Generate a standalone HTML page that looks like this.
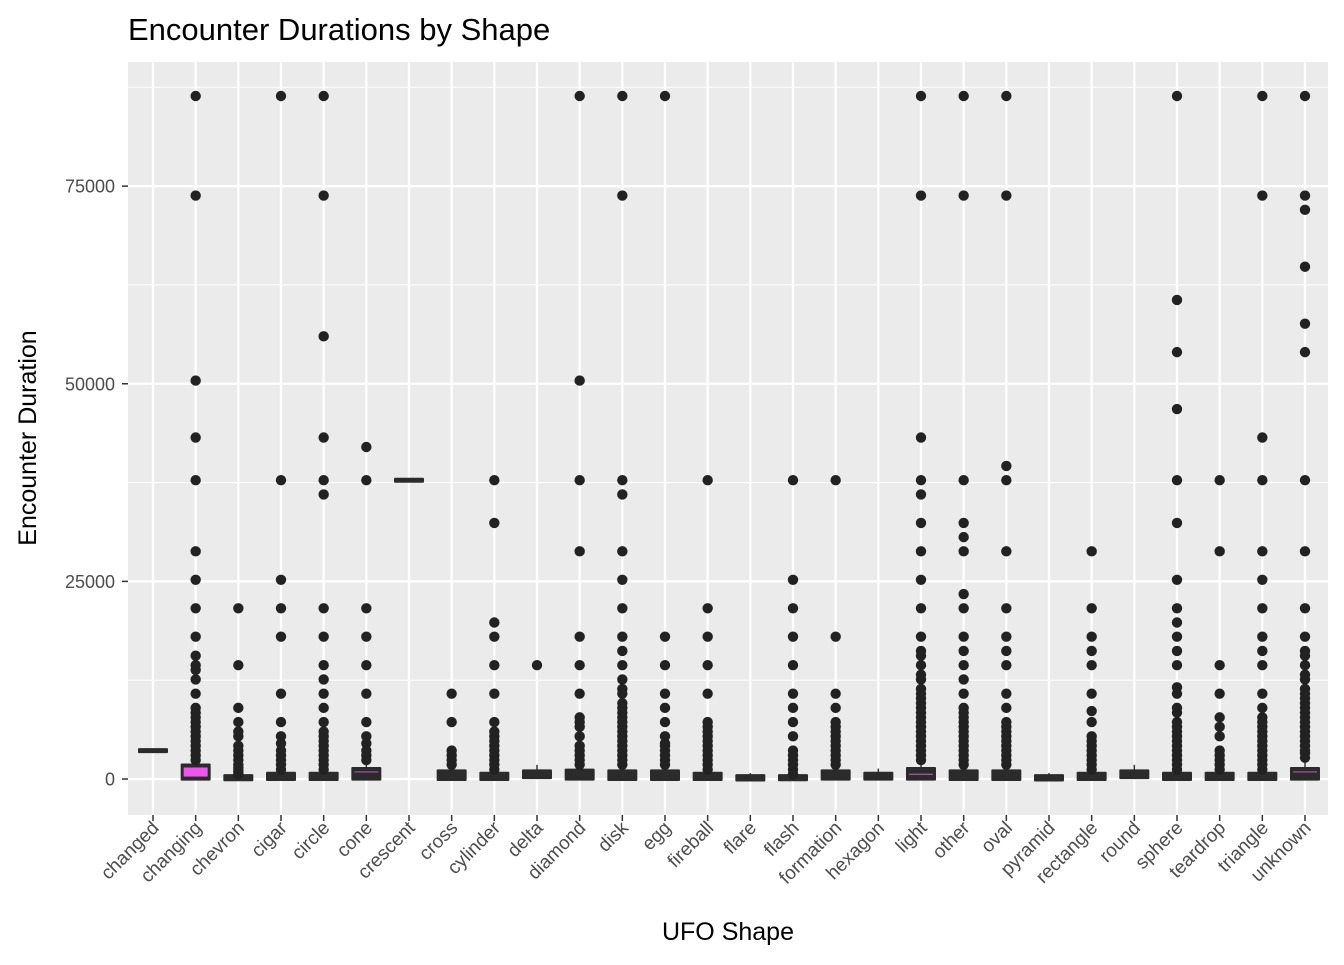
<!DOCTYPE html>
<html><head><meta charset="utf-8"><style>
body{margin:0;background:#fff;font-family:"Liberation Sans",Arial,sans-serif}
svg text{font-family:"Liberation Sans",Arial,sans-serif}
</style></head><body>
<svg id="chart" width="1344" height="960" xmlns="http://www.w3.org/2000/svg">
<rect width="1344" height="960" fill="#fff"/>
<text x="128" y="40" font-size="31" fill="#000">Encounter Durations by Shape</text>
<rect x="128" y="62" width="1200" height="753" fill="#ebebeb"/>
<g id="grid"></g><g id="marks"></g><g id="axes"></g>
<text x="728" y="940" font-size="25" text-anchor="middle" fill="#000">UFO Shape</text>
<text transform="translate(36,438) rotate(-90)" font-size="25" text-anchor="middle" fill="#000">Encounter Duration</text>
</svg>
<script>
const categories=["changed","changing","chevron","cigar","circle","cone","crescent","cross","cylinder","delta","diamond","disk","egg","fireball","flare","flash","formation","hexagon","light","other","oval","pyramid","rectangle","round","sphere","teardrop","triangle","unknown"];
const q1=[3600,120,30,60,60,120,37800,60,60,300,120,60,60,60,0,30,120,120,120,60,60,0,60,300,60,60,60,120];
const med=[3600,900,120,300,300,900,37800,600,300,600,600,600,300,300,120,120,300,300,600,300,300,120,300,600,300,300,300,900];
const q3=[3600,1650,300,600,600,1200,37800,900,600,900,1000,900,900,600,300,300,900,600,1200,900,900,300,600,900,600,600,600,1200];
const outliers=[
[],
[2400,3000,3600,4200,4800,5400,6000,6600,7200,7800,8400,9000,10800,12600,13800,14400,15600,18000,21600,25200,28800,37800,43200,50400,73800,86400],
[600,900,1200,1500,1800,2400,3000,3600,4200,5400,6000,7200,9000,14400,21600],
[1200,1800,2400,3000,3600,4500,5400,7200,10800,18000,21600,25200,37800,86400],
[1200,1800,2400,3000,3600,4200,4800,5400,6000,7200,9000,10800,12600,14400,18000,21600,36000,37800,43200,56000,73800,86400],
[2400,3000,3600,4500,5400,7200,10800,14400,18000,21600,37800,42000],
[],
[1800,2400,3000,3600,7200,10800],
[1200,1800,2400,3000,3600,4200,4800,5400,6000,7200,10800,14400,18000,19800,32400,37800],
[14400],
[1800,2400,3000,3600,4200,5400,6600,7200,7800,10800,14400,18000,28800,37800,50400,86400],
[1800,2400,3000,3600,4200,4800,5400,6000,6600,7200,7800,8400,9000,9600,10800,11400,12600,14400,16200,18000,21600,25200,28800,36000,37800,73800,86400],
[1800,2400,3000,3600,4200,4500,5400,7200,9000,10800,14400,18000,86400],
[1200,1800,2400,3000,3600,4200,4800,5400,6000,6600,7200,10800,14400,18000,21600,37800],
[],
[600,1200,1800,2400,3000,3600,5400,7200,9000,10800,14400,18000,21600,25200,37800],
[1800,2400,3000,3600,4200,4800,5400,6000,6600,7200,9000,10800,18000,37800],
[],
[2400,3000,3600,4200,4800,5400,6000,6600,7200,7800,8400,9000,9600,10200,10800,11400,12600,13200,14400,15600,16200,18000,21600,25200,28800,32400,36000,37800,43200,73800,86400],
[1800,2400,3000,3600,4200,4800,5400,6000,6600,7200,7800,8400,9000,10800,12600,14400,16200,18000,21600,23400,28800,30600,32400,37800,73800,86400],
[1800,2400,3000,3600,4200,4800,5400,6000,6600,7200,9000,10800,14400,16200,18000,21600,28800,37800,39600,73800,86400],
[],
[1200,1800,2400,3000,3600,4200,4800,5400,7200,8600,10800,14400,16200,18000,21600,28800],
[],
[1200,1800,2400,3000,3600,4200,4800,5400,6000,6600,7200,8400,9000,10800,11600,14400,16200,18000,19800,21600,25200,32400,37800,46800,54000,60600,86400],
[1200,1800,2400,3000,3600,5400,6600,7800,10800,14400,28800,37800],
[1200,1800,2400,3000,3600,4200,4800,5400,6000,6600,7200,7800,9000,10800,14400,16200,18000,21600,25200,28800,37800,43200,73800,86400],
[2700,3300,3600,4200,4800,5400,6000,6600,7200,7800,8400,9000,9600,10200,10800,11400,12600,13200,14400,15600,16200,18000,21600,28800,37800,54000,57600,64800,72000,73800,86400]
];
const yTicks=[0,25000,50000,75000];
const yTickLabels=["0","25000","50000","75000"];
</script>
<script>
const NS="http://www.w3.org/2000/svg";
const px0=128,px1=1328,py0=62,py1=815;
const yMin=-4550,yMax=90700;
function y(v){return py1-(v-yMin)/(yMax-yMin)*(py1-py0);}
function x(i){return 153+i*(1305-153)/(categories.length-1);}
function mk(tag,attrs,parent){const e=document.createElementNS(NS,tag);for(const k in attrs)e.setAttribute(k,attrs[k]);parent.appendChild(e);return e;}
const grid=document.getElementById('grid'),marks=document.getElementById('marks'),axes=document.getElementById('axes');
for(let k=0;k<yTicks.length;k++){
  const g=mk('line',{x1:px0,x2:px1,y1:y(yTicks[k]),y2:y(yTicks[k]),stroke:'#fff','stroke-width':2.2},grid);
  
  
  if(k<yTicks.length-1){const m=(yTicks[k]+yTicks[k+1])/2;const gm=mk('line',{x1:px0,x2:px1,y1:y(m),y2:y(m),stroke:'#fff','stroke-width':1},grid);
    
    }
  const t=mk('text',{x:115,y:y(yTicks[k])+6.5,'font-size':18,'text-anchor':'end',fill:'#4d4d4d'},axes);
  t.textContent=yTickLabels[k];
  
  
  const tk=mk('line',{x1:122,x2:128,y1:y(yTicks[k]),y2:y(yTicks[k]),stroke:'#333','stroke-width':1.5},axes);
  
  
}
{const m=yTicks[yTicks.length-1]+12500;const gm=mk('line',{x1:px0,x2:px1,y1:y(m),y2:y(m),stroke:'#fff','stroke-width':1},grid);
 
 }
categories.forEach((c,i)=>{
  const cx=x(i);
  const gl=mk('line',{x1:cx,x2:cx,y1:py0,y2:py1,stroke:'#fff','stroke-width':2.2},grid);
  
  
  const tk=mk('line',{x1:cx,x2:cx,y1:815,y2:821,stroke:'#333','stroke-width':1.5},axes);
  
  
  const t=mk('text',{transform:`translate(${cx+7},829) rotate(-45)`,'font-size':19,'text-anchor':'end',fill:'#4d4d4d'},axes);
  t.textContent=c;
  
  
  const g=mk('g',{},marks);
  
  
  const iqr=q3[i]-q1[i];
  const wl=mk('line',{x1:cx,x2:cx,y1:y(q3[i]),y2:y(q3[i]+1.5*iqr),stroke:'#333','stroke-width':1.5},g);
  
  
  const top=y(q3[i]),bot=y(q1[i]);
  const r=mk('rect',{x:cx-15,y:Math.min(top,bot)-2.5,width:30,height:Math.abs(bot-top)+5,fill:'#2b2b2b',rx:1},g);
  
  
  if(bot-top>9){const ir=mk('rect',{x:cx-12,y:top+1.5,width:24,height:bot-top-3,fill:'#ee55ee'},g);
    
    }
  else if(bot-top>7){const ml=mk('line',{x1:cx-12,x2:cx+12,y1:y(med[i]),y2:y(med[i]),stroke:'#b050b0','stroke-width':1.2},g);
    
    }
  outliers[i].forEach(v=>{
    const p=mk('circle',{cx:cx,cy:y(v),r:5.2,fill:'#222'},g);
    
    
  });
});
</script>
</body></html>
